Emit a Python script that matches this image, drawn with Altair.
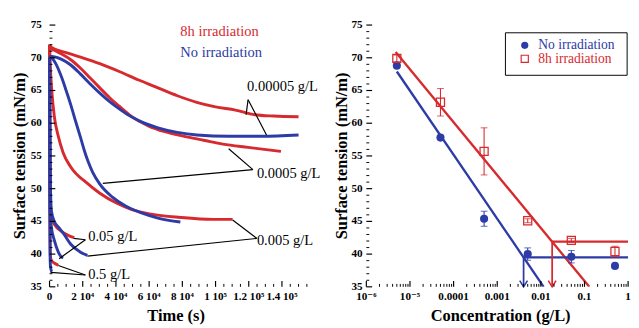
import altair as alt
import pandas as pd

RED = "#d62a2e"
BLUE = "#2c3ba5"
FONT = "Liberation Serif, Times New Roman, DejaVu Serif, serif"
W_L, W_R, H = 275, 271, 271

# ---------------- left panel data: time (s), surface tension (mN/m) ----------------
r1_t = [0, 1200, 10000, 18700, 30300, 42000, 53700, 65300, 77000, 88700, 100000, 112000, 123700, 135000, 150000]
r1_v = [72.0, 71.6, 70.8, 70.1, 69.1, 67.9, 66.6, 65.4, 64.2, 63.2, 62.5, 62.0, 61.3, 61.1, 61.0]
b1_t = [0, 1200, 7000, 12800, 18700, 24500, 30300, 36200, 42000, 47800, 53700, 65300, 77000, 88700, 108000, 127800, 150000]
b1_v = [70.2, 70.2, 69.8, 68.9, 67.5, 66.0, 64.6, 63.3, 62.2, 61.2, 60.4, 59.3, 58.6, 58.2, 58.0, 58.0, 58.2]
r2_t = [0, 7000, 12800, 18700, 24500, 30300, 36200, 42000, 49600, 59500, 69400, 81100, 92800, 104400, 119600, 139400]
r2_v = [71.5, 70.6, 69.7, 68.4, 66.9, 65.4, 63.9, 62.6, 61.0, 59.6, 58.7, 58.0, 57.4, 56.8, 56.3, 55.7]
b2_t = [0, 1200, 4000, 7000, 10000, 12800, 15700, 18700, 21000, 23300, 26000, 30300, 37900, 46100, 55400, 65300, 78800]
b2_v = [70.2, 70.0, 69.0, 67.2, 65.0, 62.8, 60.3, 57.8, 55.8, 54.1, 52.5, 50.7, 48.7, 47.3, 46.3, 45.5, 44.9]
r3_t = [0, 600, 1200, 2900, 5300, 8200, 12800, 22800, 30300, 40300, 49600, 61300, 78800, 98600, 110300]
r3_v = [72.0, 68.0, 65.5, 61.0, 58.0, 55.5, 53.3, 50.8, 49.3, 47.8, 46.8, 46.1, 45.6, 45.3, 45.3]
b3_t = [0, 300, 800, 1200, 2900, 5800, 8800, 12800, 18700, 22800]
b3_v = [70.0, 55.0, 48.0, 46.5, 45.0, 44.0, 43.0, 41.5, 40.3, 39.8]
r4_t = [0, 300, 1200, 3100, 7000, 10900, 14800]
r4_v = [72.0, 50.0, 45.5, 44.5, 43.5, 42.9, 42.5]
b4_t = [0, 300, 1200, 2900, 5300, 7000, 8200]
b4_v = [70.0, 47.0, 44.0, 42.1, 40.3, 39.6, 39.4]
r5_t = [0, 200, 600, 1200, 3000, 5300]
r5_v = [72.0, 45.0, 39.5, 39.0, 38.6, 38.3]
b5_t = [0, 300, 600, 1200, 1600]
b5_v = [70.0, 40.0, 38.0, 37.4, 37.3]

# annotation texts
ann_text = ["8h irradiation", "No irradiation", "0.00005 g/L", "0.0005 g/L", "0.005 g/L", "0.05 g/L", "0.5 g/L"]
ann_t = [78800, 78800, 119000, 124900, 124900, 23300, 23300]
ann_v = [74.1, 70.9, 65.6, 52.4, 42.2, 42.8, 36.9]

# pointer lines: start (t, v) -> end (t, v)
ptr_t1 = [119600, 119600, 122500, 122500, 124900, 124900, 21600, 21600, 21600, 21600]
ptr_v1 = [63.6, 63.6, 52.9, 52.9, 42.4, 42.4, 42.2, 42.2, 36.8, 36.8]
ptr_t2 = [118400, 130700, 107900, 32100, 110300, 22800, 14600, 5800, 5300, 600]
ptr_v2 = [61.3, 58.2, 56.1, 50.8, 45.2, 39.7, 42.4, 39.3, 38.25, 37.2]

# axis ticks and labels
lx_major = [0, 20000, 40000, 60000, 80000, 100000, 120000, 140000]
lx_labels = ["0", "2 10\u2074", "4 10\u2074", "6 10\u2074", "8 10\u2074", "1 10\u2075", "1.2 10\u2075", "1.4 10\u2075"]
lx_minor = [t for t in range(0, 160001, 5000) if t % 20000]
y_major = [35, 40, 45, 50, 55, 60, 65, 70, 75]
y_labels = [str(v) for v in y_major]
y_minor = [v for v in range(35, 76) if v % 5]
x_title_l = "Time  (s)"
x_title_r = "Concentration  (g/L)"
y_title = "Surface tension  (mN/m)"

# ---------------- right panel data ----------------
conc = [5e-6, 5e-5, 5e-4, 5e-3, 5e-2, 5e-1]
no_irr = [68.8, 57.8, 45.4, 40.0, 39.6, 38.2]
no_irr_err = [0.0, 0.0, 1.15, 0.95, 0.95, 0.0]
irr8 = [69.9, 63.2, 55.7, 45.1, 42.1, 40.4]
irr8_err = [0.5, 2.1, 3.6, 0.3, 0.3, 0.8]

fit_blue_c = [5e-6, 0.0116]
fit_blue_v = [67.9, 35.0]
fit_red_c = [4.7e-6, 0.129]
fit_red_v = [70.9, 35.0]
cmc_blue = [0.00402, 39.5]
cmc_red = [0.01816, 41.9]

rx_major = [1e-6, 1e-5, 1e-4, 1e-3, 1e-2, 1e-1, 1.0]
rx_labels = ["10\u207b\u2076", "10\u207b\u2075", "0.0001", "0.001", "0.01", "0.1", "1"]
rx_minor = [m * 10.0 ** e for e in range(-6, 0) for m in range(2, 10)]

leg_names = ["No irradiation", "8h irradiation"]

# ---------------- scales ----------------
xs_l = alt.Scale(domain=[0, 160000], nice=False, zero=False)
xs_r = alt.Scale(type="log", domain=[1e-6, 1], nice=False)
ys = alt.Scale(domain=[35, 75], nice=False, zero=False)


def XL(f):
    return alt.X(f, scale=xs_l, axis=None)


def XR(f):
    return alt.X(f, scale=xs_r, axis=None)


def Y(f):
    return alt.Y(f, scale=ys, axis=None)


dom_axis = alt.Axis(labels=False, ticks=False, title=None, grid=False, domainColor="black", domainWidth=1.5)
one = pd.DataFrame({"a": [0]})


def frame(xscale, x_lo, x_hi):
    return alt.Chart(pd.DataFrame({"x": [x_lo, x_hi], "v": [35, 75]})).mark_point(opacity=0).encode(
        x=alt.X("x:Q", scale=xscale, axis=dom_axis), y=alt.Y("v:Q", scale=ys, axis=dom_axis))


def yticks(label_dx):
    maj = alt.Chart(pd.DataFrame({"v": y_major})).mark_rule(color="black", strokeWidth=1.2).encode(
        y=Y("v:Q"), x=alt.value(0), x2=alt.value(6))
    mnr = alt.Chart(pd.DataFrame({"v": y_minor})).mark_rule(color="black", strokeWidth=1).encode(
        y=Y("v:Q"), x=alt.value(0), x2=alt.value(3))
    lab = alt.Chart(pd.DataFrame({"v": y_major, "lab": y_labels})).mark_text(
        align="right", baseline="middle", font=FONT, fontSize=11.5, fontWeight="bold", color="black").encode(
        y=Y("v:Q"), x=alt.value(label_dx), text="lab:N")
    return [maj, mnr, lab]


def xticks(major, labels, minor, X):
    maj = alt.Chart(pd.DataFrame({"x": major})).mark_rule(color="black", strokeWidth=1.2).encode(
        x=X("x:Q"), y=alt.value(H), y2=alt.value(H - 6))
    mnr = alt.Chart(pd.DataFrame({"x": minor})).mark_rule(color="black", strokeWidth=1).encode(
        x=X("x:Q"), y=alt.value(H), y2=alt.value(H - 3))
    lab = alt.Chart(pd.DataFrame({"x": major, "lab": labels})).mark_text(
        align="center", baseline="middle", font=FONT, fontSize=11.5, fontWeight="bold", color="black").encode(
        x=X("x:Q"), y=alt.value(H + 11), text="lab:N")
    return [maj, mnr, lab]


def titles(xt, xt_x, yt_x):
    tx = alt.Chart(one).mark_text(align="center", baseline="middle", font=FONT, fontSize=17, fontWeight="bold",
                                  color="black", text=xt).encode(x=alt.value(xt_x), y=alt.value(H + 30))
    ty = alt.Chart(one).mark_text(align="center", baseline="middle", font=FONT, fontSize=17, fontWeight="bold",
                                  color="black", angle=270, text=y_title).encode(x=alt.value(yt_x), y=alt.value(H / 2))
    return [tx, ty]


# ---------------- left ----------------
def curve_df(items):
    rows = []
    for name, ts, vs in items:
        for i, (t, v) in enumerate(zip(ts, vs)):
            rows.append({"curve": name, "t": t, "v": v, "o": i})
    return pd.DataFrame(rows)


red_df = curve_df([("r1", r1_t, r1_v), ("r2", r2_t, r2_v), ("r3", r3_t, r3_v), ("r4", r4_t, r4_v), ("r5", r5_t, r5_v)])
blue_df = curve_df([("b1", b1_t, b1_v), ("b2", b2_t, b2_v), ("b3", b3_t, b3_v), ("b4", b4_t, b4_v), ("b5", b5_t, b5_v)])

red_lines = alt.Chart(red_df).mark_line(strokeWidth=3, color=RED, interpolate="monotone").encode(
    x=XL("t:Q"), y=Y("v:Q"), detail="curve:N", order="o:Q")
blue_lines = alt.Chart(blue_df).mark_line(strokeWidth=3, color=BLUE, interpolate="monotone").encode(
    x=XL("t:Q"), y=Y("v:Q"), detail="curve:N", order="o:Q")

ptr_df = pd.DataFrame({"t": ptr_t1, "v": ptr_v1, "t2": ptr_t2, "v2": ptr_v2})
ptrs = alt.Chart(ptr_df).mark_rule(color="black", strokeWidth=1.2).encode(
    x=XL("t:Q"), y=Y("v:Q"), x2="t2:Q", y2="v2:Q")

ann_df = pd.DataFrame({"t": ann_t, "v": ann_v, "txt": ann_text})
txt_red = alt.Chart(ann_df.iloc[[0]]).mark_text(align="left", baseline="middle", font=FONT, fontSize=15,
                                                color=RED).encode(x=XL("t:Q"), y=Y("v:Q"), text="txt:N")
txt_blue = alt.Chart(ann_df.iloc[[1]]).mark_text(align="left", baseline="middle", font=FONT, fontSize=15,
                                                 color=BLUE).encode(x=XL("t:Q"), y=Y("v:Q"), text="txt:N")
txt_blk = alt.Chart(ann_df.iloc[2:]).mark_text(align="left", baseline="middle", font=FONT, fontSize=15,
                                               color="black").encode(x=XL("t:Q"), y=Y("v:Q"), text="txt:N")

left = alt.layer(frame(xs_l, 0, 160000), red_lines, blue_lines, ptrs, txt_red, txt_blue, txt_blk,
                 *yticks(-8), *xticks(lx_major, lx_labels, lx_minor, XL),
                 *titles(x_title_l, 131, -30)).properties(width=W_L, height=H)

# ---------------- right ----------------
blue_pts_df = pd.DataFrame({"c": conc, "v": no_irr,
                            "lo": [v - e for v, e in zip(no_irr, no_irr_err)],
                            "hi": [v + e for v, e in zip(no_irr, no_irr_err)]})
red_pts_df = pd.DataFrame({"c": conc, "v": irr8,
                           "lo": [v - e for v, e in zip(irr8, irr8_err)],
                           "hi": [v + e for v, e in zip(irr8, irr8_err)]})
blue_err_df = blue_pts_df[blue_pts_df.hi > blue_pts_df.lo]
red_err_df = red_pts_df[red_pts_df.hi > red_pts_df.lo]


def line2(cs, vs, color, width=2.4):
    return alt.Chart(pd.DataFrame({"c": cs, "v": vs})).mark_line(color=color, strokeWidth=width, clip=True).encode(
        x=XR("c:Q"), y=Y("v:Q"))


fit_b = line2(fit_blue_c, fit_blue_v, BLUE)
fit_r = line2(fit_red_c, fit_red_v, RED)
hor_b = line2([cmc_blue[0], 1.0], [cmc_blue[1], cmc_blue[1]], BLUE)
hor_r = line2([cmc_red[0], 1.0], [cmc_red[1], cmc_red[1]], RED)
ver_b = line2([cmc_blue[0], cmc_blue[0]], [cmc_blue[1], 35.0], BLUE, 1.8)
ver_r = line2([cmc_red[0], cmc_red[0]], [cmc_red[1], 35.0], RED, 1.8)


def head(c, color):
    return alt.Chart(pd.DataFrame({"c": [c], "v": [35.0]})).mark_point(
        shape="M-1,-1.6L0,0L1,-1.6", filled=False, size=64, strokeWidth=1.6, opacity=1, color=color).encode(
        x=XR("c:Q"), y=Y("v:Q"))


def errs(df, color):
    bar = alt.Chart(df).mark_rule(strokeWidth=1.1, color=color).encode(x=XR("c:Q"), y=Y("lo:Q"), y2="hi:Q")
    lo = alt.Chart(df).mark_tick(orient="horizontal", size=7, thickness=1.1, color=color).encode(
        x=XR("c:Q"), y=Y("lo:Q"))
    hi = alt.Chart(df).mark_tick(orient="horizontal", size=7, thickness=1.1, color=color).encode(
        x=XR("c:Q"), y=Y("hi:Q"))
    return [bar, lo, hi]


blue_pts = alt.Chart(blue_pts_df).mark_point(shape="circle", filled=True, size=70, opacity=1, color=BLUE).encode(
    x=XR("c:Q"), y=Y("v:Q"))
red_pts = alt.Chart(red_pts_df).mark_point(shape="square", filled=False, size=70, strokeWidth=1.3, opacity=1,
                                           color=RED).encode(x=XR("c:Q"), y=Y("v:Q"))

# manual legend (pixel placement inside the right panel)
leg_box = alt.Chart(one).mark_rect(fill="white", stroke="black", strokeWidth=1).encode(
    x=alt.value(144), x2=alt.value(270), y=alt.value(8), y2=alt.value(52))
leg_sym_b = alt.Chart(one).mark_point(shape="circle", filled=True, size=55, color=BLUE, opacity=1).encode(
    x=alt.value(164), y=alt.value(21))
leg_sym_r = alt.Chart(one).mark_point(shape="square", filled=False, size=55, color=RED, strokeWidth=1.2,
                                      opacity=1).encode(x=alt.value(164), y=alt.value(35))
leg_txt_b = alt.Chart(one).mark_text(align="left", baseline="middle", font=FONT, fontSize=14, color=BLUE,
                                     text=leg_names[0]).encode(x=alt.value(178), y=alt.value(20.5))
leg_txt_r = alt.Chart(one).mark_text(align="left", baseline="middle", font=FONT, fontSize=14, color=RED,
                                     text=leg_names[1]).encode(x=alt.value(178), y=alt.value(35.5))

right = alt.layer(frame(xs_r, 1e-6, 1.0), fit_b, fit_r, hor_b, hor_r, ver_b, ver_r,
                  head(cmc_blue[0], BLUE), head(cmc_red[0], RED),
                  *errs(blue_err_df, BLUE), *errs(red_err_df, RED), blue_pts, red_pts,
                  *yticks(-4), *xticks(rx_major, rx_labels, rx_minor, XR),
                  *titles(x_title_r, 139, -25),
                  leg_box, leg_sym_b, leg_sym_r, leg_txt_b, leg_txt_r).properties(width=W_R, height=H)

chart = alt.hconcat(left, right, spacing=12).properties(
    padding={"left": 3, "top": 6, "right": 0, "bottom": 0}
).configure_view(stroke=None)

chart.save("out.html", embed_options={"renderer": "svg", "actions": False})
